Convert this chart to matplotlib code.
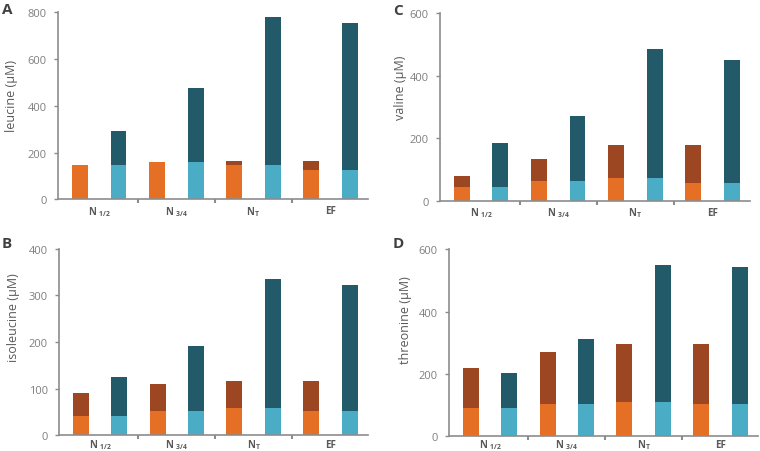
import numpy as np
import matplotlib; matplotlib.use("Agg")
import matplotlib.pyplot as plt

plt.rcParams["font.family"] = ["Open Sans", "DejaVu Sans"]
plt.rcParams["mathtext.fontset"] = "custom"
plt.rcParams["mathtext.rm"] = "Open Sans"
plt.rcParams["mathtext.bf"] = "Open Sans:bold"

groups = [r"N $_{\mathbf{1/2}}$", r"N $_{\mathbf{3/4}}$", r"N$_{\mathbf{T}}$", "EF"]

# per group: (orange base, orange total) and (blue base, blue total)
leu_or_base = [145, 160, 148, 125]
leu_or_top  = [145, 160, 164, 164]
leu_bl_base = [145, 158, 148, 125]
leu_bl_top  = [294, 475, 779, 756]

val_or_base = [44, 64, 73, 58]
val_or_top  = [79, 134, 179, 179]
val_bl_base = [44, 64, 73, 58]
val_bl_top  = [186, 272, 487, 449]

ile_or_base = [42, 52, 59, 52]
ile_or_top  = [91, 111, 116, 116]
ile_bl_base = [42, 52, 59, 52]
ile_bl_top  = [126, 191, 335, 322]

thr_or_base = [92, 103, 110, 103]
thr_or_top  = [218, 270, 295, 295]
thr_bl_base = [92, 103, 110, 103]
thr_bl_top  = [202, 312, 549, 544]

C_OR, C_BR = "#E46F25", "#9C4722"
C_BL, C_DK = "#4BACC6", "#225A69"
GREY_AX, GREY_TXT = "#8C8C8C", "#7F7F7F"

panels = [
    # letter, ylabel, data, ymax, step, rect, letter pos, ylabel pos, group label offset
    ("A", "leucine (\u00b5M)", (leu_or_base, leu_or_top, leu_bl_base, leu_bl_top), 800, 200,
     [0.0763, 0.5569, 0.408, 0.4137], (-0.18, 1.018), (-0.129, 0.56), 0.0615),
    ("C", "valine (\u00b5M)", (val_or_base, val_or_top, val_bl_base, val_bl_top), 600, 200,
     [0.5789, 0.5538, 0.408, 0.4146], (-0.152, 1.018), (-0.106, 0.607), 0.0615),
    ("B", "isoleucine (\u00b5M)", (ile_or_base, ile_or_top, ile_bl_base, ile_bl_top), 400, 100,
     [0.0776, 0.0347, 0.4066, 0.4129], (-0.184, 1.033), (-0.126, 0.637), 0.048),
    ("D", "threonine (\u00b5M)", (thr_or_base, thr_or_top, thr_bl_base, thr_bl_top), 600, 200,
     [0.5908, 0.0325, 0.4066, 0.4137], (-0.181, 1.036), (-0.12, 0.629), 0.044),
]

fig = plt.figure(figsize=(7.6, 4.52), dpi=100)
w = 0.415
for letter, ylab, (ob, ot, bb, bt), ymax, step, rect, lpos, ypos, goff in panels:
    ax = fig.add_axes(rect)
    xo = np.arange(len(groups)) * 2
    xb = xo + 1
    ob, ot, bb, bt = map(np.array, (ob, ot, bb, bt))
    ax.bar(xo, ob, w, color=C_OR, zorder=2)
    ax.bar(xo, ot - ob, w, bottom=ob, color=C_BR, zorder=2)
    ax.bar(xb, bb, w, color=C_BL, zorder=2)
    ax.bar(xb, bt - bb, w, bottom=bb, color=C_DK, zorder=2)

    ax.set_xlim(-0.571, 7.48)
    ax.set_ylim(0, ymax)
    ax.set_yticks(np.arange(0, ymax + 1, step))
    ax.set_xticks([1.5, 3.5, 5.5])
    ax.set_xticklabels([])
    for x, g in zip(xo + 0.5, groups):
        ax.text(x, -goff * ymax, g, ha="center", va="center", fontsize=7,
                fontweight="bold", color="#595959")
    for s in ("top", "right"):
        ax.spines[s].set_visible(False)
    for s in ("left", "bottom"):
        ax.spines[s].set_color(GREY_AX)
        ax.spines[s].set_linewidth(1.2)
    ax.tick_params(axis="x", length=3, width=1.5, color=GREY_AX, direction="out")
    ax.tick_params(axis="y", length=3, width=1, color=GREY_AX, labelsize=8,
                   labelcolor=GREY_TXT, pad=5)
    ax.set_ylabel(ylab, fontsize=9, color="#595959")
    ax.yaxis.set_label_coords(*ypos)
    ax.text(lpos[0], lpos[1], letter, transform=ax.transAxes, fontsize=11,
            fontweight="bold", color="#404040", ha="left", va="center")

fig.savefig("out.png", dpi=100)
